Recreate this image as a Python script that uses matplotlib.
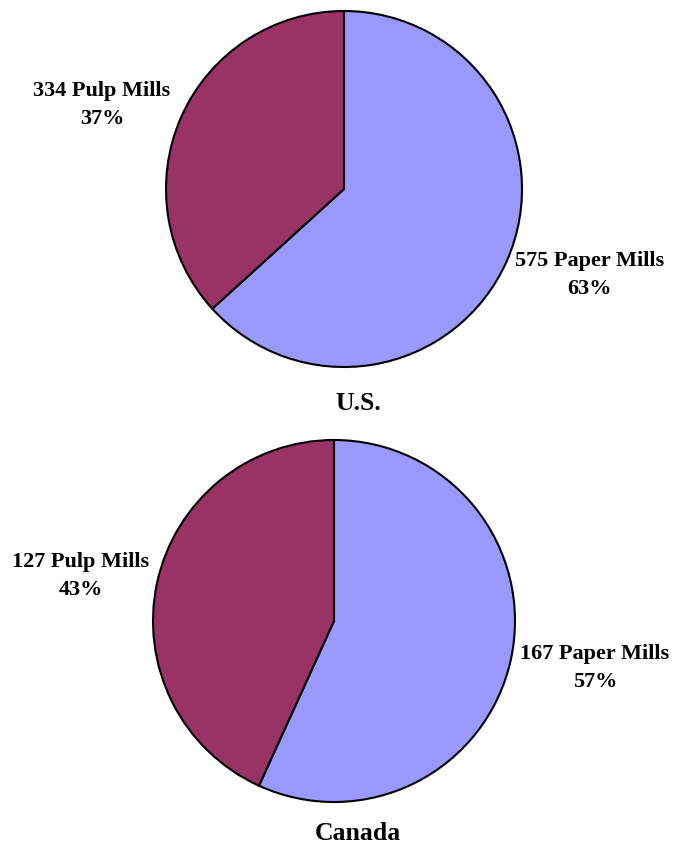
import matplotlib
matplotlib.use("Agg")
import matplotlib.pyplot as plt

# donnees
pays = ["U.S.", "Canada"]
papier = [575, 167]
pate = [334, 127]
noms = ["Paper Mills", "Pulp Mills"]
couleurs = ["#9999FF", "#993366"]

W, H = 673, 846
fig = plt.figure(figsize=(W / 100, H / 100), dpi=100)
ax = fig.add_axes([0, 0, 1, 1])
ax.set_xlim(0, W)
ax.set_ylim(0, H)
ax.set_aspect("equal")
ax.axis("off")

# centres / rayons en pixels (y depuis le haut)
centres = [(344, 189), (334, 621)]
rayons = [178, 181]
pos_papier = [(590, 275), (595, 668)]
pos_pate = [(102, 105), (81, 576)]
pos_titre = [(358, 403), (358, 834)]

police = dict(family=["Liberation Serif", "DejaVu Serif"], weight="bold")

for i in range(2):
    cx, cy = centres[i]
    vals = [papier[i], pate[i]]
    ax.pie(vals, colors=couleurs, startangle=90, counterclock=False,
           center=(cx, H - cy), radius=rayons[i],
           wedgeprops=dict(edgecolor="black", linewidth=1.5))
    tot = sum(vals)
    pct = [round(100 * v / tot) for v in vals]
    x, y = pos_papier[i]
    ax.text(x, H - y, "%d %s\n%d%%" % (papier[i], noms[0], pct[0]),
            ha="center", va="center", fontsize=16, linespacing=1.55, **police)
    x, y = pos_pate[i]
    ax.text(x, H - y, "%d %s\n%d%%" % (pate[i], noms[1], pct[1]),
            ha="center", va="center", fontsize=16, linespacing=1.55, **police)
    x, y = pos_titre[i]
    ax.text(x, H - y, pays[i], ha="center", va="center", fontsize=18.5, **police)

ax.set_xlim(0, W)
ax.set_ylim(0, H)
fig.savefig("out.png", dpi=100)
